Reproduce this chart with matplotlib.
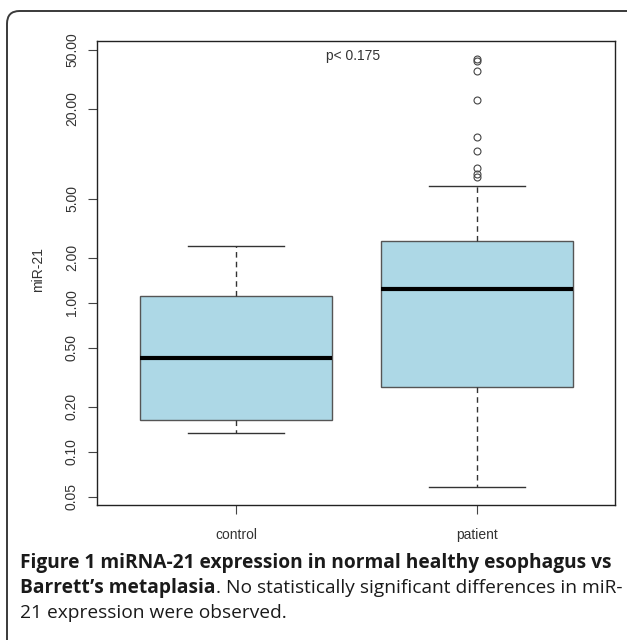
import matplotlib
matplotlib.use('Agg')
import matplotlib.pyplot as plt
from matplotlib.patches import FancyBboxPatch
from matplotlib.ticker import NullLocator, FixedLocator, FixedFormatter

# ---- data ----
groups = ['control', 'patient']
q1 = [0.163, 0.270]
medians = [0.427, 1.23]
q3 = [1.11, 2.59]
whislo = [0.134, 0.0577]
whishi = [2.41, 6.10]
fliers = [[], [43.0, 41.9, 35.7, 22.8, 12.9, 10.5, 7.98, 7.3, 7.01]]
ytick_vals = [0.05, 0.10, 0.20, 0.50, 1.00, 2.00, 5.00, 20.00, 50.00]
ytick_labels = ['0.05', '0.10', '0.20', '0.50', '1.00', '2.00', '5.00', '20.00', '50.00']
y_label = 'miR-21'
p_text = 'p< 0.175'
cap_bold1 = 'Figure 1 miRNA-21 expression in normal healthy esophagus vs'
cap_bold2 = 'Barrett\u2019s metaplasia'
cap_reg2 = '. No statistically significant differences in miR-'
cap_reg3 = '21 expression were observed.'

W, H = 627, 640
fig = plt.figure(figsize=(W / 100, H / 100), dpi=100)
fig.patch.set_facecolor('white')

# outer rounded frame (open at the bottom / right edge)
frame = FancyBboxPatch((7 / W, -0.2), (W + 30) / W, (H - 11) / H + 0.2,
                       boxstyle='round,pad=0,rounding_size=0.02',
                       transform=fig.transFigure, facecolor='none',
                       edgecolor='#3a3a3a', linewidth=1.4, clip_on=False)
fig.patches.append(frame)

left, right, top, bottom = 96.7, 615, 41, 505
ax = fig.add_axes([left / W, 1 - bottom / H, (right - left) / W, (bottom - top) / H])
ax.set_yscale('log')

stats = []
for i, g in enumerate(groups):
    stats.append(dict(label=g, med=medians[i], q1=q1[i], q3=q3[i],
                      whislo=whislo[i], whishi=whishi[i], fliers=fliers[i]))

ax.bxp(stats, positions=[1, 2], widths=0.8, patch_artist=True,
       boxprops=dict(facecolor='#add8e6', edgecolor='#555555', linewidth=1.0),
       medianprops=dict(color='black', linewidth=3.0, solid_capstyle='butt'),
       whiskerprops=dict(color='#333333', linewidth=1.0, linestyle=(0, (4, 3))),
       capprops=dict(color='#333333', linewidth=1.0),
       flierprops=dict(marker='o', markerfacecolor='none', markeredgecolor='#444444',
                       markersize=5, markeredgewidth=0.8))

ax.set_xlim(0.42, 2.575)
ax.set_ylim(10 ** -1.3577, 10 ** 1.7564)
ax.yaxis.set_major_locator(FixedLocator(ytick_vals))
ax.yaxis.set_major_formatter(FixedFormatter(ytick_labels))
ax.yaxis.set_minor_locator(NullLocator())
ax.set_xticks([1, 2])
ax.set_xticklabels(groups)

for lab in ax.get_yticklabels():
    lab.set_rotation(90)
    lab.set_va('center')
    lab.set_ha('center')
    lab.set_fontfamily('Liberation Sans'); lab.set_fontsize(10); lab.set_color('#333333')
for lab in ax.get_xticklabels():
    lab.set_fontfamily('Liberation Sans'); lab.set_fontsize(10); lab.set_color('#333333')
ax.tick_params(axis='y', length=6.5, width=0.8, color='#444444', pad=11.3)
ax.tick_params(axis='x', length=6.5, width=0.8, color='#444444', pad=10)
for s in ax.spines.values():
    s.set_linewidth(1.0)
    s.set_color('#222222')

fig.text(38 / W, 1 - 270 / H, y_label, rotation=90, ha='center', va='center',
         fontfamily='Liberation Sans', fontsize=10, color='#333333')
ax.text(353 / W, 1 - 56 / H, p_text, transform=fig.transFigure, ha='center', va='center',
        fontfamily='Liberation Sans', fontsize=10, color='#333333')

# caption
cap_font = 'Open Sans'
fs = 11.5
renderer = fig.canvas.get_renderer()
t1 = fig.text(20 / W, 1 - 563 / H, cap_bold1, ha='left', va='center',
              fontfamily=cap_font, fontweight='bold', fontsize=fs, color='#1a1a1a')
wpx = t1.get_window_extent(renderer).width
fs = fs * 592 / wpx
t1.set_fontsize(fs)
t2 = fig.text(20 / W, 1 - 588 / H, cap_bold2, ha='left', va='center',
              fontfamily=cap_font, fontweight='bold', fontsize=fs, color='#1a1a1a')
w2 = t2.get_window_extent(renderer).width
fig.text((20 + w2) / W, 1 - 588 / H, cap_reg2, ha='left', va='center',
         fontfamily=cap_font, fontsize=fs, color='#1a1a1a')
fig.text(20 / W, 1 - 613 / H, cap_reg3, ha='left', va='center',
         fontfamily=cap_font, fontsize=fs, color='#1a1a1a')

fig.savefig('out.png', dpi=100, facecolor='white')
